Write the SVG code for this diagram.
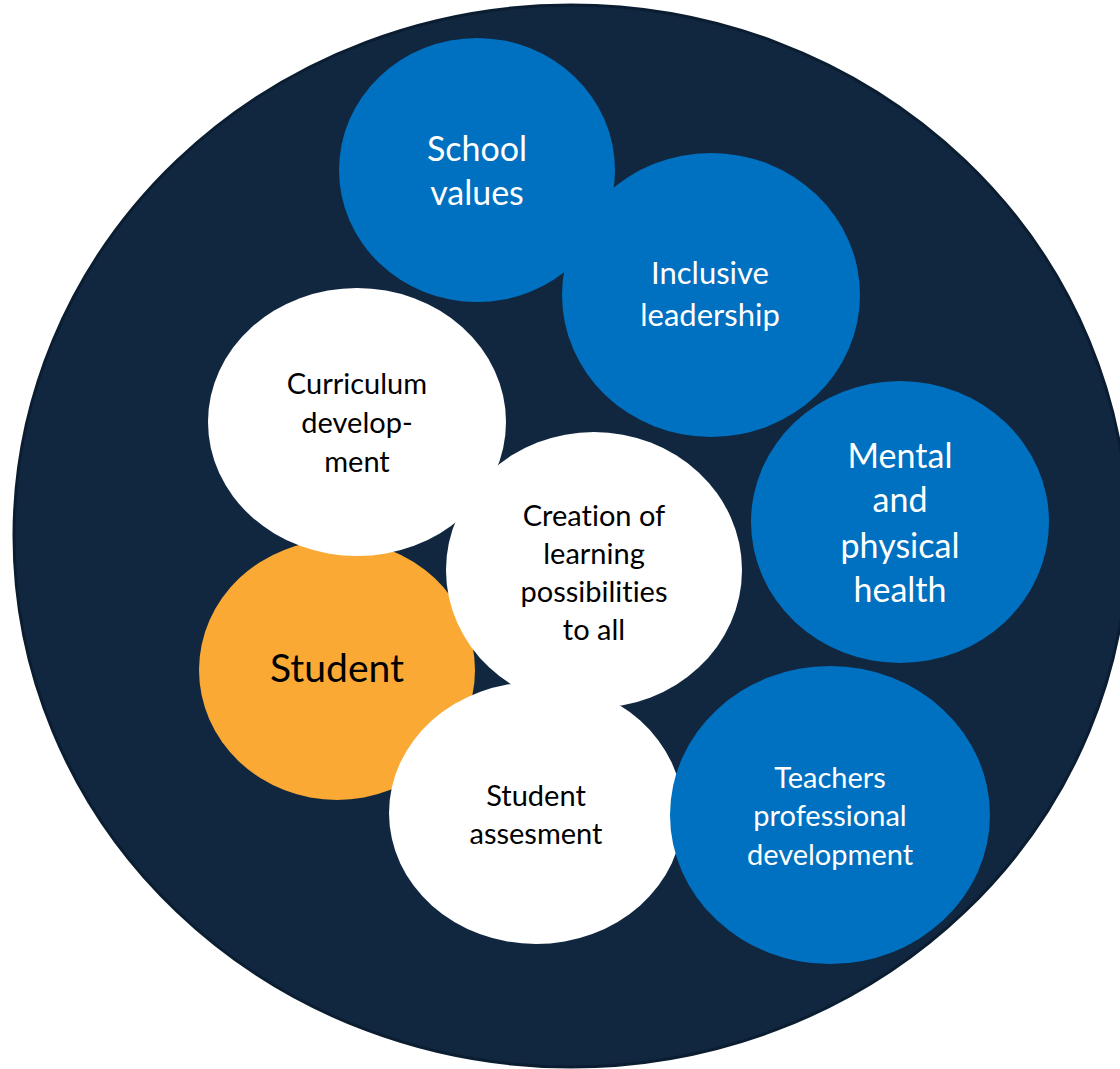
<svg xmlns="http://www.w3.org/2000/svg" width="1120" height="1069" viewBox="0 0 1120 1069">
<style>
.blue{fill:#0070C0}
.white{fill:#FFFFFF}
.orange{fill:#FAA934}
text{font-family:Lato,"Open Sans","Liberation Sans",sans-serif;text-anchor:middle;dominant-baseline:central;font-variant-ligatures:none;font-feature-settings:"liga" 0,"clig" 0}
.tw{fill:#FFFFFF}
.tb{fill:#000000}
</style>
<rect width="1120" height="1069" fill="#FFFFFF"/>
<g id="outer">
<ellipse cx="571" cy="536" rx="557" ry="531" fill="#10273F" stroke="#0B1D31" stroke-width="3"/>
</g>
<g id="connectors"></g>
<g id="school-values">
<ellipse class="blue" cx="477" cy="170" rx="138" ry="132"/>
<text class="tw" font-size="34" x="477" y="147">School</text>
<text class="tw" font-size="34" x="477" y="191">values</text>
</g>
<g id="inclusive-leadership">
<ellipse class="blue" cx="711" cy="295" rx="149" ry="142"/>
<text class="tw" font-size="31" x="710" y="272">Inclusive</text>
<text class="tw" font-size="31" x="710" y="314">leadership</text>
</g>
<g id="mental-health">
<ellipse class="blue" cx="900" cy="522" rx="149" ry="141"/>
<text class="tw" font-size="34" x="900" y="454">Mental</text>
<text class="tw" font-size="34" x="900" y="498">and</text>
<text class="tw" font-size="34" x="900" y="544">physical</text>
<text class="tw" font-size="34" x="900" y="588">health</text>
</g>
<g id="student">
<ellipse class="orange" cx="337" cy="670" rx="138" ry="130"/>
<text class="tb" font-size="39" x="337" y="667">Student</text>
</g>
<g id="curriculum-development">
<ellipse class="white" cx="357" cy="422" rx="149" ry="134"/>
<text class="tb" font-size="29" x="357" y="382">Curriculum</text>
<text class="tb" font-size="29" x="357" y="421">develop-</text>
<text class="tb" font-size="29" x="357" y="460">ment</text>
</g>
<g id="creation-learning">
<ellipse class="white" cx="594" cy="570" rx="148" ry="138"/>
<text class="tb" font-size="29" x="594" y="514">Creation of</text>
<text class="tb" font-size="29" x="594" y="552">learning</text>
<text class="tb" font-size="29" x="594" y="590">possibilities</text>
<text class="tb" font-size="29" x="594" y="628">to all</text>
</g>
<g id="student-assessment">
<ellipse class="white" cx="536" cy="813" rx="147" ry="131"/>
<text class="tb" font-size="29" x="536" y="794">Student</text>
<text class="tb" font-size="29" x="536" y="832">assesment</text>
</g>
<g id="teachers-development">
<ellipse class="blue" cx="830" cy="815" rx="160" ry="149"/>
<text class="tw" font-size="29" x="830" y="776">Teachers</text>
<text class="tw" font-size="29" x="830" y="814">professional</text>
<text class="tw" font-size="29" x="830" y="853">development</text>
</g>
</svg>
